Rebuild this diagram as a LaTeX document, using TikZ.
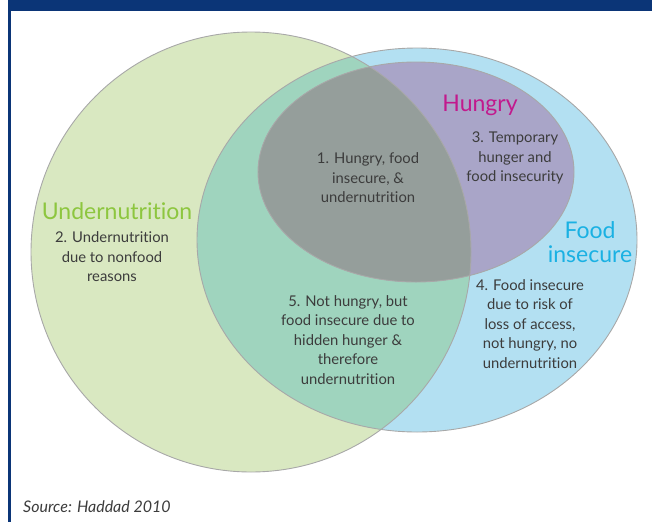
\documentclass[tikz,border=0pt]{standalone}
\usepackage{fontspec}
\setmainfont{Lato}[Ligatures=NoCommon]
\definecolor{barblue}{HTML}{0B3577}
\definecolor{undergreen}{HTML}{D9E8C1}
\definecolor{insecblue}{HTML}{B3E0F2}
\definecolor{bothteal}{HTML}{9FD4BE}
\definecolor{hungpurple}{HTML}{A9A5C8}
\definecolor{allgray}{HTML}{959E9B}
\definecolor{rimgray}{HTML}{A8A8A8}
\definecolor{headgreen}{HTML}{8DC63F}
\definecolor{headmagenta}{HTML}{C2198D}
\definecolor{headcyan}{HTML}{1AB1E3}
\definecolor{bodygray}{HTML}{3C3C3C}

\begin{document}
\begin{tikzpicture}[
    x=1pt, y=-1pt,
    rim/.style={draw=rimgray, line width=0.9pt},
    heading/.style={inner sep=0pt, align=center, font=\fontsize{23}{23.5}\selectfont},
    body/.style={inner sep=0pt, align=center, text=bodygray, font=\fontsize{14.8}{19.5}\selectfont}
  ]
    \useasboundingbox (0,0) rectangle (652,522);

    % frame
    \fill[barblue] (8,0) rectangle (652,11);
    \fill[barblue] (8,0) rectangle (10.5,522);

    % sets
    \def\undernutset{(251,252) circle [radius=220]}
    \def\insecureset{(417,240) ellipse [x radius=220, y radius=192]}
    \def\hungryset{(416,172) ellipse [x radius=158, y radius=110]}

    \fill[undergreen] \undernutset;
    \fill[insecblue] \insecureset;
    \begin{scope}
      \clip \undernutset;
      \fill[bothteal] \insecureset;
    \end{scope}
    \fill[hungpurple] \hungryset;
    \begin{scope}
      \clip \undernutset;
      \fill[allgray] \hungryset;
    \end{scope}
    \draw[rim] \undernutset;
    \draw[rim] \insecureset;
    \draw[rim] \hungryset;

    % labels
    \node[heading, text=headgreen] (undernut) at (117,211) {Undernutrition};
    \node[heading, text=headmagenta] (hungry) at (480,105) {Hungry};
    \node[heading, text=headcyan] (insecure) at (590,242) {Food\\insecure};

    \node[body] (area1) at (368,178) {1. Hungry, food\\insecure, \&\\undernutrition};
    \node[body] (area2) at (112,257) {2. Undernutrition\\due to nonfood\\reasons};
    \node[body] (area3) at (515,158) {3. Temporary\\hunger and\\food insecurity};
    \node[body] (area4) at (530,324) {4. Food insecure\\due to risk of\\loss of access,\\not hungry, no\\undernutrition};
    \node[body] (area5) at (348,340) {5. Not hungry, but\\food insecure due to\\hidden hunger \&\\therefore\\undernutrition};

    \node[inner sep=0pt, anchor=west, text=bodygray, font=\fontsize{16}{19}\selectfont\itshape] (source) at (23,507) {Source: Haddad 2010};
\end{tikzpicture}
\end{document}
